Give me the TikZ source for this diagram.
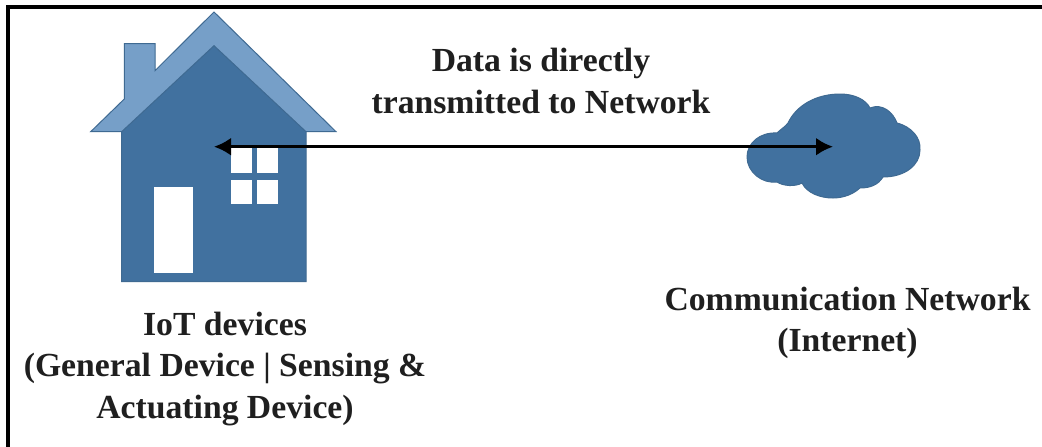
\documentclass[tikz,border=0pt]{standalone}
\usepackage{fontspec}
\setmainfont{Liberation Serif}
\usetikzlibrary{arrows.meta}
\definecolor{bodyblue}{HTML}{41719F}
\definecolor{roofblue}{HTML}{769FC8}
\definecolor{edgeblue}{HTML}{3F6A92}
\tikzset{
  labeltext/.style={font=\fontsize{33.7}{41.5}\selectfont\bfseries, align=center, text=black!88, inner sep=0pt},
  conn/.style={line width=3pt, black, {Latex[length=17pt,width=18pt]}-{Latex[length=17pt,width=18pt]}},
  winpane/.style={fill=white, draw=none}
}
\begin{document}
\begin{tikzpicture}[x=1pt,y=-1pt]
\useasboundingbox (0,0) rectangle (1042,447);
\fill[white] (0,0) rectangle (1042,447);
\draw[line width=4pt,black] (8,447) -- (8,7.2) -- (1042,7.2);
% house
\draw[draw=edgeblue,line width=1pt,fill=roofblue,line join=miter]
  (214,12) -- (336,131.7) -- (90.7,131.7) -- (124.3,99) -- (124.3,43.5) -- (155,43.5) -- (155,70.7) -- cycle;
\draw[draw=edgeblue,line width=1pt,fill=bodyblue]
  (214,45.7) -- (306,131.7) -- (306,281.7) -- (121.7,281.7) -- (121.7,131.7) -- cycle;
\fill[winpane] (154,186.7) rectangle (193.3,272.7);
\fill[winpane] (231,148) rectangle (251.7,172.7);
\fill[winpane] (256.7,148) rectangle (277.7,172.7);
\fill[winpane] (231,180) rectangle (251.7,204);
\fill[winpane] (256.7,180) rectangle (277.7,204);
% cloud
\draw[draw=edgeblue,line width=1pt,fill=bodyblue]
  (777,182) .. controls (762,184) and (747,172) .. (747,157)
  .. controls (747,143) and (760,132) .. (777,133)
  .. controls (781,129) and (785,127) .. (788,123)
  .. controls (797,104) and (818,94) .. (840,94)
  .. controls (855,94) and (866,100) .. (870,108)
  .. controls (882,103) and (893,112) .. (897,123)
  .. controls (912,127) and (921,138) .. (920,150)
  .. controls (920,165) and (905,177) .. (883,177)
  .. controls (878,185) and (870,188) .. (860,188)
  .. controls (850,197) and (838,198) .. (833,198)
  .. controls (820,198) and (807,193) .. (802,183)
  .. controls (795,187) and (783,186) .. (777,182) -- cycle;
\coordinate (leftend) at (214,146.7);
\coordinate (rightend) at (833,146.7);
\draw[conn] (leftend) -- (rightend);
\node[labeltext] (title) at (541,81) {Data is directly\\transmitted to Network};
\node[labeltext] (iot) at (225,369) {IoT devices\\(General Device | Sensing \&\\Actuating Device)};
\node[labeltext] (net) at (847.5,323) {Communication Network\\(Internet)};
\end{tikzpicture}
\end{document}
